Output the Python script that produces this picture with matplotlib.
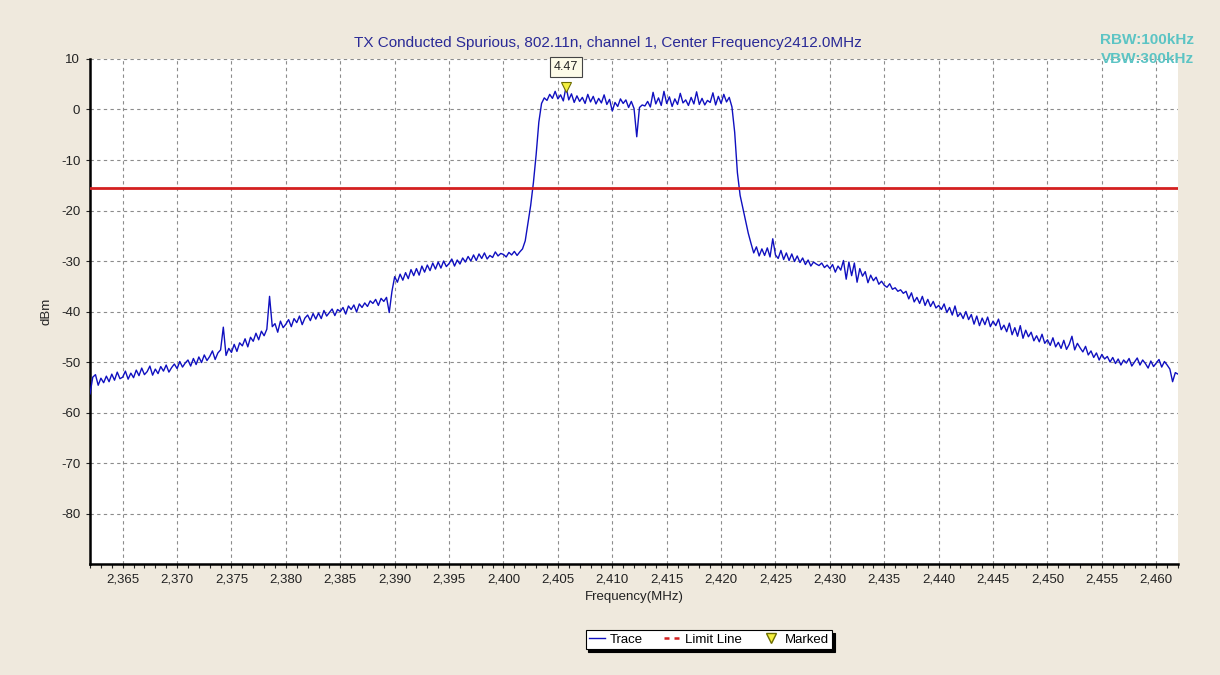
import numpy as np
import matplotlib
matplotlib.use('Agg')
import matplotlib.pyplot as plt
from matplotlib.lines import Line2D
from matplotlib.ticker import MultipleLocator, FuncFormatter

plt.rcParams['font.family'] = ['Liberation Sans', 'DejaVu Sans']
plt.rcParams['axes.unicode_minus'] = False

title = 'TX Conducted Spurious, 802.11n, channel 1, Center Frequency2412.0MHz'
f_start = 2362.0
f_stop = 2462.0

# sweep readings, 0.25 MHz apart (dBm)
level = [
    -56.3, -53.0, -52.5, -54.6,  -53.2, -54.1, -52.8, -53.9,  -52.4, -53.6, -52.0, -53.3,
    -53.0, -51.8, -53.4, -52.2,  -53.1, -51.6, -52.7, -51.2,  -52.5, -51.9, -50.8, -52.6,
    -51.4, -52.3, -50.9, -51.8,  -50.6, -52.0, -51.1, -50.4,  -51.3, -49.9, -51.0, -50.2,
    -49.6, -50.8, -49.3, -50.5,  -49.0, -50.1, -48.6, -49.7,  -48.9, -47.8, -49.5, -48.2,
    -47.6, -43.1, -48.7, -47.3,  -48.1, -46.5, -47.9, -46.2,  -46.8, -45.4, -47.0, -45.1,
    -45.9, -44.3, -45.6, -43.9,  -44.8, -43.5, -37.0, -43.0,  -42.4, -44.1, -41.9, -43.2,
    -42.5, -41.6, -43.0, -41.4,  -42.2, -40.9, -42.6, -41.3,  -40.7, -41.8, -40.4, -41.5,
    -40.3, -41.4, -39.8, -40.9,  -40.2, -39.5, -40.8, -39.6,  -40.0, -39.2, -40.5, -38.9,
    -39.6, -38.7, -40.1, -38.5,  -39.2, -38.3, -39.0, -37.9,  -38.4, -37.6, -38.8, -37.4,
    -38.0, -37.2, -40.2, -36.0,  -33.1, -34.2, -32.6, -33.8,  -32.3, -33.5, -31.7, -32.9,
    -31.5, -32.8, -31.0, -32.2,  -30.8, -31.9, -30.4, -31.6,  -30.2, -31.4, -30.0, -31.1,
    -30.5, -29.6, -31.0, -29.8,  -30.6, -29.4, -30.2, -29.1,  -30.0, -28.8, -29.9, -28.6,
    -29.5, -28.4, -29.6, -28.9,  -29.3, -28.2, -29.0, -28.5,  -28.7, -29.2, -28.3, -28.8,
    -28.1, -28.9, -28.2, -27.6,  -26.0, -22.5, -19.0, -14.5,  -9.0, -2.5, 1.2, 2.3,
    1.8, 3.0, 2.2, 3.6,  2.1, 2.9, 1.7, 4.47,  1.9, 3.1, 1.4, 2.7,
    1.6, 2.4, 1.2, 3.0,  1.5, 2.6, 1.1, 2.2,  1.3, 2.9, 1.0, 2.0,
    -0.3, 1.4, 0.6, 2.1,  1.2, 1.9, 0.4, 1.6,  0.2, -5.4, 0.4, 0.9,
    0.7, 1.6, 0.5, 3.4,  1.1, 2.3, 0.8, 3.6,  1.2, 2.5, 0.6, 2.1,
    1.0, 3.2, 1.3, 1.9,  0.8, 2.4, 1.1, 3.5,  1.0, 2.2, 0.9, 1.8,
    1.4, 3.3, 0.9, 2.6,  1.2, 3.0, 1.5, 2.4,  0.5, -4.5, -12.5, -17.0,
    -19.5, -22.0, -24.5, -26.5,  -28.4, -27.2, -29.0, -27.6,  -28.9, -27.4, -29.2, -25.6,
    -28.8, -29.5, -27.9, -29.7,  -28.4, -29.9, -28.6, -30.1,  -29.0, -30.3, -29.4, -30.7,
    -29.8, -31.0, -30.2, -30.6,  -30.9, -30.4, -31.3, -30.8,  -31.5, -30.7, -32.2, -31.0,
    -31.8, -29.9, -33.6, -30.2,  -32.9, -30.4, -34.2, -31.5,  -33.0, -32.1, -34.3, -32.8,
    -33.9, -33.2, -34.6, -34.0,  -34.8, -35.2, -34.5, -35.6,  -35.3, -36.0, -35.7, -36.4,
    -36.0, -37.5, -36.3, -38.1,  -37.2, -38.4, -37.0, -38.8,  -37.6, -39.0, -38.0, -39.3,
    -38.8, -39.6, -38.5, -40.2,  -39.2, -40.7, -38.9, -41.0,  -40.3, -41.4, -40.0, -41.6,
    -40.6, -42.5, -40.9, -42.8,  -41.3, -42.6, -41.1, -43.0,  -41.9, -42.8, -41.5, -43.6,
    -42.7, -44.0, -42.3, -44.6,  -43.2, -44.9, -42.8, -45.3,  -43.7, -45.0, -44.1, -45.8,
    -44.8, -46.0, -44.5, -46.3,  -45.6, -46.7, -45.2, -47.0,  -46.1, -47.3, -45.7, -47.5,
    -46.5, -44.9, -47.6, -46.3,  -47.2, -48.0, -46.9, -48.6,  -47.8, -49.1, -48.2, -49.6,
    -48.5, -49.4, -48.9, -50.0,  -49.1, -50.3, -49.4, -50.6,  -49.6, -50.2, -49.3, -50.8,
    -50.0, -49.2, -50.6, -49.6,  -50.3, -51.2, -49.8, -50.9,  -50.2, -49.5, -51.0, -49.9,
    -50.6, -51.4, -53.9, -52.1,  -52.4,
]
freq = np.linspace(f_start, f_stop, len(level))

peak = 4.47
limit = peak - 20.0   # -20 dBc spurious limit

bg = '#efe9dd'
txt = '#222222'
fig = plt.figure(figsize=(12.2, 6.75), dpi=100, facecolor=bg)
ax = fig.add_axes([0.0738, 0.1644, 0.8918, 0.7482])
ax.set_facecolor('white')

ax.plot(freq, level, color='#1010c0', lw=1.0, zorder=3)
ax.axhline(limit, color='#d42020', lw=2.0, zorder=4)

i_pk = int(np.argmax(level))
ax.plot(freq[i_pk], level[i_pk], marker='v', ms=7.5, mfc='#f4f040',
        mec='#6e6e00', mew=0.8, ls='none', zorder=5)
ax.annotate(f'{level[i_pk]:.2f}', (freq[i_pk], level[i_pk]),
            xytext=(0, 14.5), textcoords='offset points', ha='center', va='center',
            fontsize=9, color=txt,
            bbox=dict(boxstyle='square,pad=0.3', fc='#fdfbe8', ec='#444444', lw=0.8))

ax.set_xlim(f_start, f_stop)
ax.set_ylim(-90, 10)
ax.xaxis.set_minor_locator(MultipleLocator(1))
ax.set_yticks(np.arange(-80, 11, 10))
ax.set_xticks(np.arange(2365, 2461, 5))
ax.xaxis.set_major_formatter(FuncFormatter(lambda v, p: f'{v:,.0f}'))

ax.grid(True, which='major', color='#8c8c8c', ls=(0, (3, 3)), lw=0.8)
for s in ('top', 'right'):
    ax.spines[s].set_visible(False)
for s in ('left', 'bottom'):
    ax.spines[s].set_linewidth(1.8)
    ax.spines[s].set_color('black')
ax.tick_params(which='both', direction='out', length=3, width=0.8,
               labelsize=9.5, colors=txt, pad=4)

ax.set_xlabel('Frequency(MHz)', fontsize=9.5, color=txt, labelpad=4)
ax.set_ylabel('dBm', fontsize=9.5, color=txt, labelpad=6)

fig.text(0.498, 0.937, title, ha='center', va='center', fontsize=11, color='#2a2a96')
fig.text(0.979, 0.941, 'RBW:100kHz', ha='right', va='center', fontsize=11,
         fontweight='bold', color='#5cc4c4')
fig.text(0.979, 0.913, 'VBW:300kHz', ha='right', va='center', fontsize=11,
         fontweight='bold', color='#5cc4c4')

handles = [
    Line2D([], [], color='#1010c0', lw=1.0),
    Line2D([], [], color='#d42020', lw=1.8, ls=(0, (2, 2))),
    Line2D([], [], marker='v', ms=6.5, mfc='#f4f040', mec='#6e6e00', ls='none'),
]
leg = fig.legend(handles, ['Trace', 'Limit Line', 'Marked'], loc='center',
                 bbox_to_anchor=(0.581, 0.052), ncol=3, fontsize=9.5, frameon=True,
                 fancybox=False, shadow={'color': 'black', 'alpha': 1.0},
                 edgecolor='black', framealpha=1.0, handlelength=1.2,
                 handletextpad=0.4, columnspacing=1.6, borderpad=0.25)
leg.get_frame().set_linewidth(0.8)

fig.savefig('out.png', dpi=100, facecolor=bg)
